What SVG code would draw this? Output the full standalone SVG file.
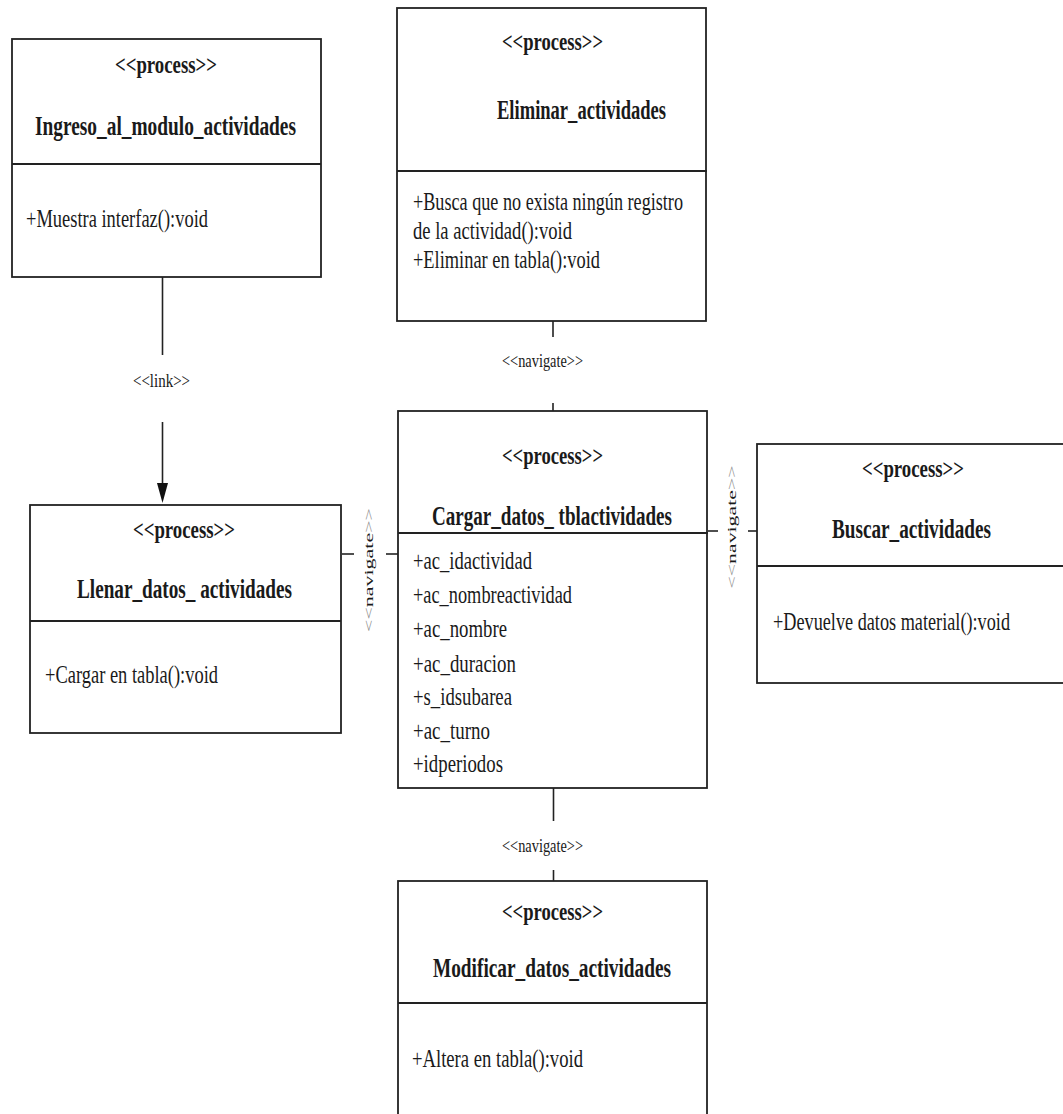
<svg xmlns="http://www.w3.org/2000/svg" width="1063" height="1114" viewBox="0 0 1063 1114">
  <style>
    .box { fill: #ffffff; stroke: #222222; stroke-width: 1.8; }
    .sep { stroke: #222222; stroke-width: 1.8; }
    .wire { stroke: #222222; stroke-width: 1.6; fill: none; }
    text { font-family: "Liberation Serif", "Times New Roman", serif; fill: #1a1a1a; }
    .st { font-size: 25px; font-weight: bold; }
    .ti { font-size: 28px; font-weight: bold; }
    .bd { font-size: 25px; }
    .lb { font-size: 18px; }
    .vl { font-size: 13px; }
    .chev { fill: #8a8a8a; }
  </style>

  <rect width="1063" height="1114" fill="#ffffff"/>

  <!-- connectors -->
  <g id="connectors">
    <!-- link: Ingreso -> Llenar -->
    <line class="wire" x1="162.5" y1="277" x2="162.5" y2="355"/>
    <text class="lb" x="133" y="387" textLength="57" lengthAdjust="spacingAndGlyphs">&lt;&lt;link&gt;&gt;</text>
    <line class="wire" x1="162.5" y1="422" x2="162.5" y2="483"/>
    <path d="M157,483 L168,483 L162.5,503 Z" fill="#111111"/>

    <!-- navigate: Eliminar - Cargar -->
    <line class="wire" x1="553" y1="321" x2="553" y2="337"/>
    <text class="lb" x="502" y="367" textLength="81" lengthAdjust="spacingAndGlyphs">&lt;&lt;navigate&gt;&gt;</text>
    <line class="wire" x1="553" y1="403" x2="553" y2="411"/>

    <!-- navigate: Llenar - Cargar -->
    <line class="wire" x1="342" y1="554" x2="354" y2="554"/>
    <line class="wire" x1="386" y1="554" x2="398" y2="554"/>
    <text class="vl" transform="translate(373,570) rotate(-90)" x="0" y="0" text-anchor="middle" textLength="124" lengthAdjust="spacingAndGlyphs"><tspan class="chev">&lt;&lt;</tspan>navigate<tspan class="chev">&gt;&gt;</tspan></text>

    <!-- navigate: Cargar - Buscar -->
    <line class="wire" x1="708" y1="531" x2="718" y2="531"/>
    <line class="wire" x1="748" y1="531" x2="758" y2="531"/>
    <text class="vl" transform="translate(736,527) rotate(-90)" x="0" y="0" text-anchor="middle" textLength="123" lengthAdjust="spacingAndGlyphs"><tspan class="chev">&lt;&lt;</tspan>navigate<tspan class="chev">&gt;&gt;</tspan></text>

    <!-- navigate: Cargar - Modificar -->
    <line class="wire" x1="553.5" y1="788" x2="553.5" y2="821"/>
    <text class="lb" x="502" y="852" textLength="81" lengthAdjust="spacingAndGlyphs">&lt;&lt;navigate&gt;&gt;</text>
    <line class="wire" x1="553.5" y1="870" x2="553.5" y2="881"/>
  </g>

  <!-- Ingreso_al_modulo_actividades -->
  <g id="ingreso">
    <rect class="box" x="12" y="39" width="309" height="238"/>
    <line class="sep" x1="12" y1="164" x2="321" y2="164"/>
    <text class="st" x="115" y="73" textLength="102" lengthAdjust="spacingAndGlyphs">&lt;&lt;process&gt;&gt;</text>
    <text class="ti" x="35" y="135" textLength="261" lengthAdjust="spacingAndGlyphs">Ingreso_al_modulo_actividades</text>
    <text class="bd" x="26" y="227" textLength="182" lengthAdjust="spacingAndGlyphs">+Muestra interfaz():void</text>
  </g>

  <!-- Eliminar_actividades -->
  <g id="eliminar">
    <rect class="box" x="397" y="8" width="309" height="313"/>
    <line class="sep" x1="397" y1="171" x2="707" y2="171"/>
    <text class="st" x="502" y="50" textLength="101" lengthAdjust="spacingAndGlyphs">&lt;&lt;process&gt;&gt;</text>
    <text class="ti" x="497" y="119" textLength="169" lengthAdjust="spacingAndGlyphs">Eliminar_actividades</text>
    <text class="bd" x="413" y="210" textLength="270" lengthAdjust="spacingAndGlyphs">+Busca que no exista ningún registro</text>
    <text class="bd" x="413" y="239" textLength="159" lengthAdjust="spacingAndGlyphs">de la actividad():void</text>
    <text class="bd" x="413" y="268" textLength="187" lengthAdjust="spacingAndGlyphs">+Eliminar en tabla():void</text>
  </g>

  <!-- Llenar_datos_ actividades -->
  <g id="llenar">
    <rect class="box" x="30" y="505" width="311" height="228"/>
    <line class="sep" x1="30" y1="621" x2="341" y2="621"/>
    <text class="st" x="133" y="538" textLength="102" lengthAdjust="spacingAndGlyphs">&lt;&lt;process&gt;&gt;</text>
    <text class="ti" x="77" y="598" textLength="215" lengthAdjust="spacingAndGlyphs">Llenar_datos_ actividades</text>
    <text class="bd" x="45" y="683" textLength="173" lengthAdjust="spacingAndGlyphs">+Cargar en tabla():void</text>
  </g>

  <!-- Cargar_datos_ tblactividades -->
  <g id="cargar">
    <rect class="box" x="398" y="411" width="309" height="377"/>
    <line class="sep" x1="398" y1="533" x2="708" y2="533"/>
    <text class="st" x="502" y="464" textLength="101" lengthAdjust="spacingAndGlyphs">&lt;&lt;process&gt;&gt;</text>
    <text class="ti" x="432" y="525" textLength="240" lengthAdjust="spacingAndGlyphs">Cargar_datos_ tblactividades</text>
    <text class="bd" x="413" y="569" textLength="119" lengthAdjust="spacingAndGlyphs">+ac_idactividad</text>
    <text class="bd" x="413" y="603" textLength="159" lengthAdjust="spacingAndGlyphs">+ac_nombreactividad</text>
    <text class="bd" x="413" y="637" textLength="94" lengthAdjust="spacingAndGlyphs">+ac_nombre</text>
    <text class="bd" x="413" y="672" textLength="103" lengthAdjust="spacingAndGlyphs">+ac_duracion</text>
    <text class="bd" x="413" y="705" textLength="99" lengthAdjust="spacingAndGlyphs">+s_idsubarea</text>
    <text class="bd" x="413" y="739" textLength="77" lengthAdjust="spacingAndGlyphs">+ac_turno</text>
    <text class="bd" x="413" y="772" textLength="90" lengthAdjust="spacingAndGlyphs">+idperiodos</text>
  </g>

  <!-- Buscar_actividades -->
  <g id="buscar">
    <rect class="box" x="757" y="444" width="320" height="239"/>
    <line class="sep" x1="757" y1="566" x2="1070" y2="566"/>
    <text class="st" x="862" y="477" textLength="102" lengthAdjust="spacingAndGlyphs">&lt;&lt;process&gt;&gt;</text>
    <text class="ti" x="832" y="538" textLength="159" lengthAdjust="spacingAndGlyphs">Buscar_actividades</text>
    <text class="bd" x="773" y="630" textLength="237" lengthAdjust="spacingAndGlyphs">+Devuelve datos material():void</text>
  </g>

  <!-- Modificar_datos_actividades -->
  <g id="modificar">
    <rect class="box" x="398" y="881" width="309" height="260"/>
    <line class="sep" x1="398" y1="1003" x2="707" y2="1003"/>
    <text class="st" x="502" y="920" textLength="101" lengthAdjust="spacingAndGlyphs">&lt;&lt;process&gt;&gt;</text>
    <text class="ti" x="433" y="977" textLength="238" lengthAdjust="spacingAndGlyphs">Modificar_datos_actividades</text>
    <text class="bd" x="412" y="1067" textLength="171" lengthAdjust="spacingAndGlyphs">+Altera en tabla():void</text>
  </g>
</svg>
